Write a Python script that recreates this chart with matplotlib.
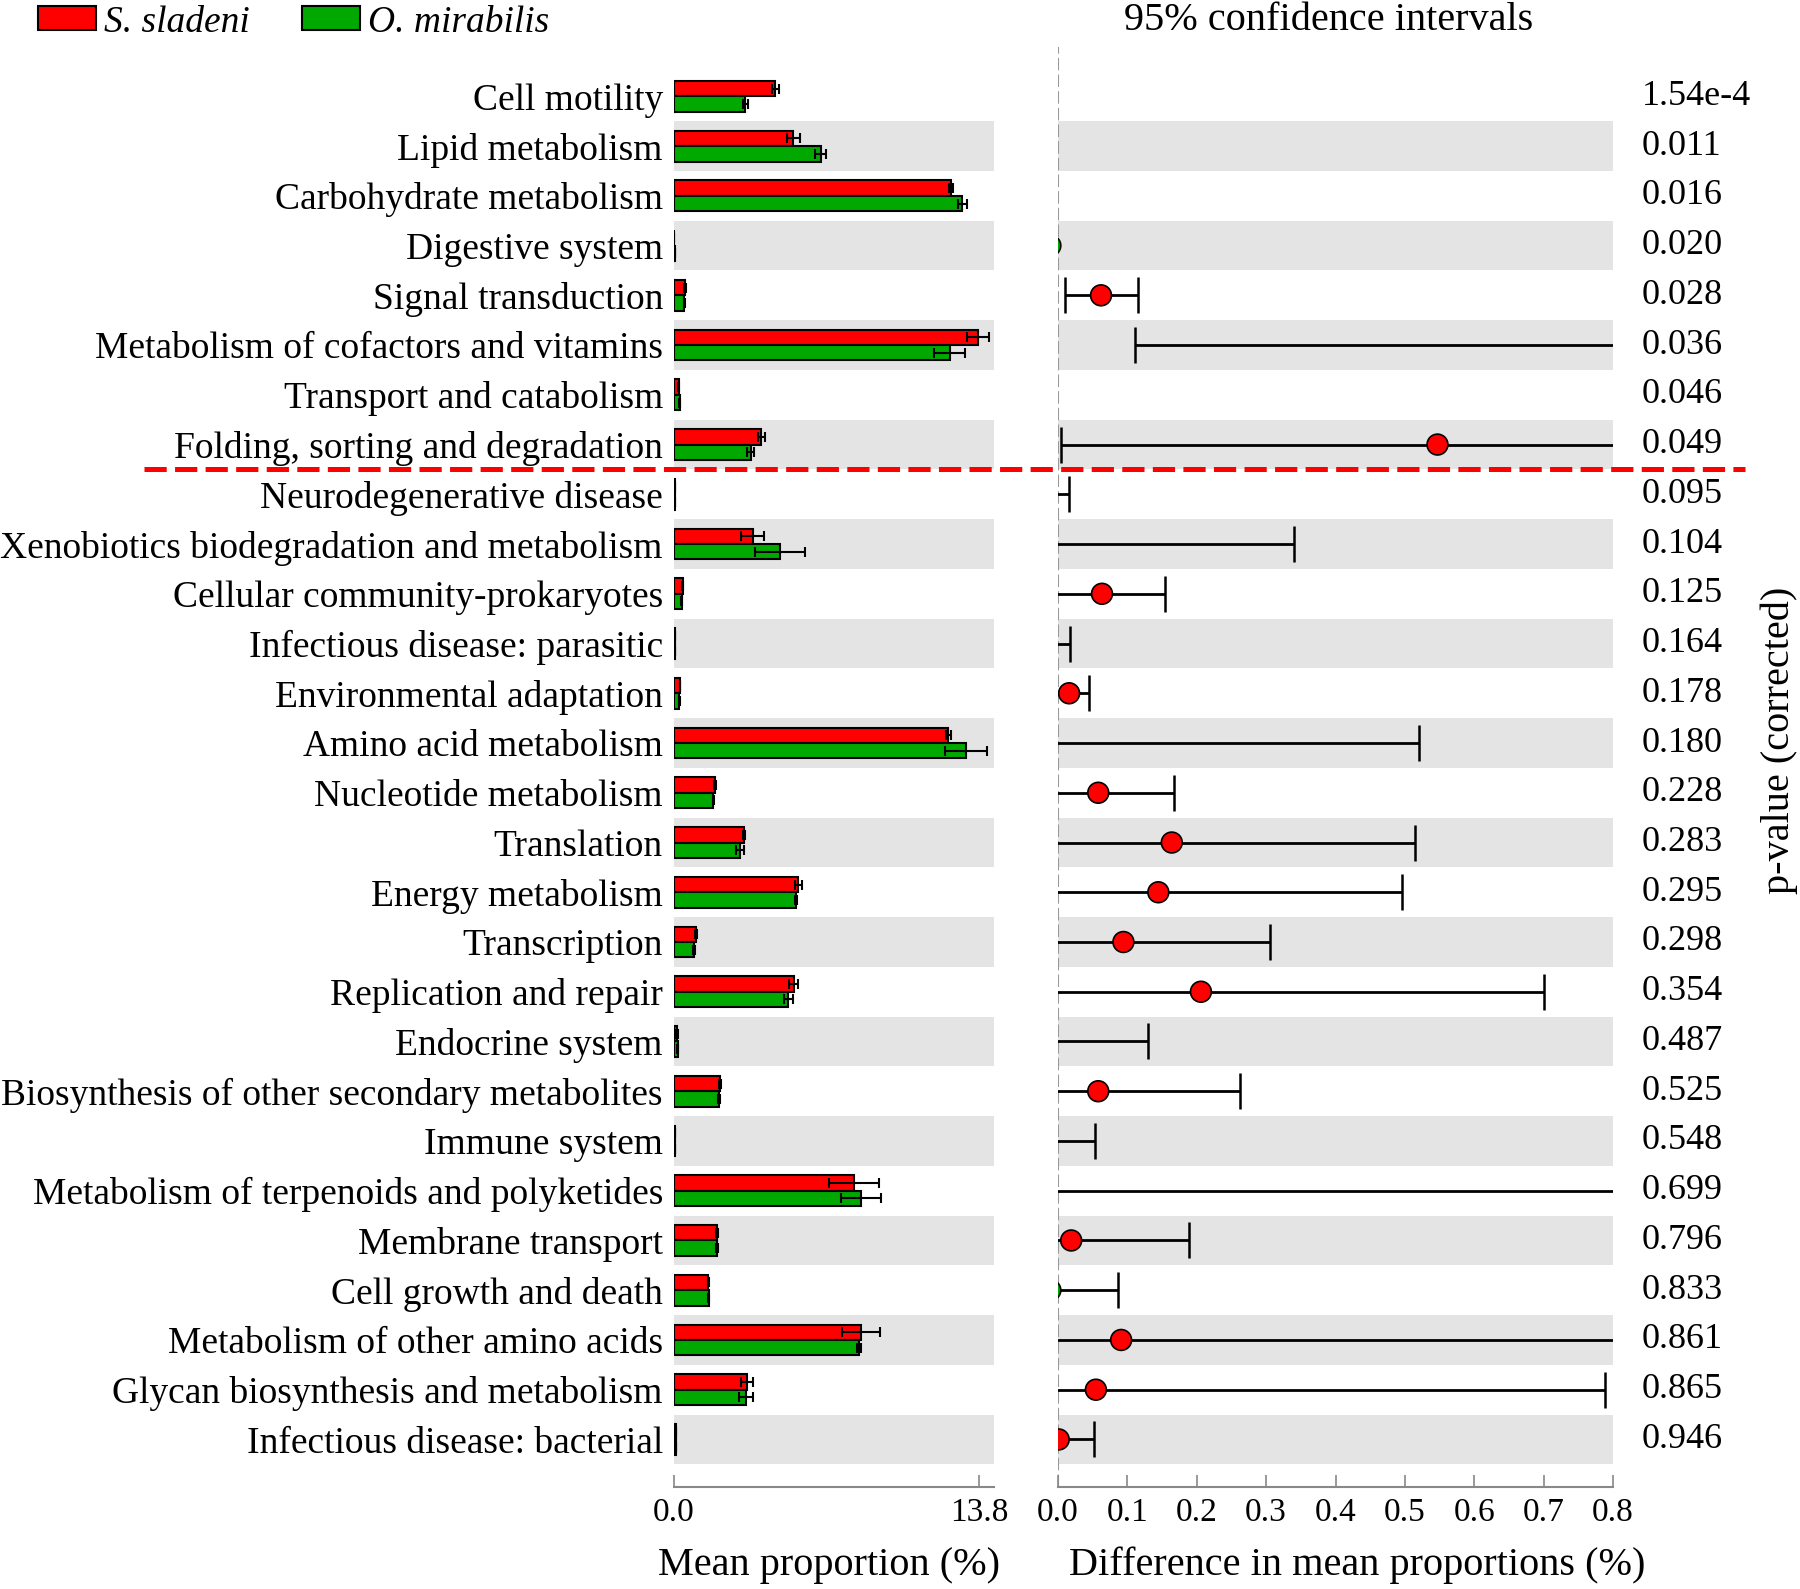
import numpy as np
import matplotlib
matplotlib.use("Agg")
import matplotlib.pyplot as plt
from matplotlib.patches import Patch
from matplotlib.lines import Line2D
from matplotlib.transforms import blended_transform_factory

plt.rcParams["font.family"] = ["Liberation Serif", "DejaVu Serif"]
plt.rcParams["lines.scale_dashes"] = False

categories = [
    "Cell motility", "Lipid metabolism", "Carbohydrate metabolism",
    "Digestive system", "Signal transduction",
    "Metabolism of cofactors and vitamins", "Transport and catabolism",
    "Folding, sorting and degradation", "Neurodegenerative disease",
    "Xenobiotics biodegradation and metabolism",
    "Cellular community-prokaryotes", "Infectious disease: parasitic",
    "Environmental adaptation", "Amino acid metabolism",
    "Nucleotide metabolism", "Translation", "Energy metabolism",
    "Transcription", "Replication and repair", "Endocrine system",
    "Biosynthesis of other secondary metabolites", "Immune system",
    "Metabolism of terpenoids and polyketides", "Membrane transport",
    "Cell growth and death", "Metabolism of other amino acids",
    "Glycan biosynthesis and metabolism", "Infectious disease: bacterial",
]

# mean proportion (%) per group
sladeni_mean = [4.58, 5.39, 12.51, 0.02, 0.49, 13.75, 0.21, 3.95, 0.05, 3.55,
                0.39, 0.05, 0.27, 12.40, 1.85, 3.18, 5.62, 1.00, 5.40, 0.13,
                2.08, 0.06, 8.13, 1.93, 1.55, 8.44, 3.31, 0.10]
sladeni_err = [0.15, 0.30, 0.10, 0.0, 0.03, 0.50, 0.02, 0.15, 0.0, 0.53,
               0.03, 0.0, 0.02, 0.10, 0.05, 0.05, 0.15, 0.05, 0.20, 0.03,
               0.05, 0.0, 1.12, 0.05, 0.02, 0.85, 0.26, 0.0]
mirabilis_mean = [3.23, 6.63, 13.03, 0.03, 0.47, 12.45, 0.26, 3.46, 0.06, 4.79,
                  0.35, 0.06, 0.23, 13.18, 1.78, 2.99, 5.50, 0.89, 5.17, 0.16,
                  2.05, 0.06, 8.45, 1.93, 1.57, 8.36, 3.25, 0.10]
mirabilis_err = [0.10, 0.25, 0.20, 0.0, 0.03, 0.70, 0.02, 0.15, 0.0, 1.13,
                 0.02, 0.0, 0.02, 0.95, 0.03, 0.18, 0.05, 0.05, 0.20, 0.03,
                 0.05, 0.0, 0.90, 0.05, 0.02, 0.10, 0.32, 0.0]

# difference in mean proportions and 95% CI
diff = [1.29, -1.19, -0.49, -0.011, 0.062, 1.24, -0.03, 0.547, -0.017, -1.21,
        0.0634, -0.02, 0.016, -0.75, 0.058, 0.164, 0.1446, 0.0943, 0.206, -0.05,
        0.058, -0.02, -0.30, 0.019, -0.011, 0.091, 0.0546, 0.001]
ci_low = [0.85, -1.90, -0.85, -0.03, 0.0107, 0.1116, -0.06, 0.004, -0.05, -2.76,
          -0.027, -0.058, -0.012, -2.02, -0.051, -0.187, -0.206, -0.116, -0.288, -0.23,
          -0.147, -0.093, -1.50, -0.151, -0.091, -0.70, -0.68, -0.044]
ci_high = [1.73, -0.45, -0.12, -0.006, 0.1157, 2.37, -0.006, 1.09, 0.0165, 0.340,
           0.154, 0.0177, 0.044, 0.521, 0.167, 0.515, 0.4955, 0.305, 0.700, 0.130,
           0.263, 0.0535, 0.90, 0.189, 0.0866, 0.88, 0.789, 0.052]

p_values = ["1.54e-4", "0.011", "0.016", "0.020", "0.028", "0.036", "0.046",
            "0.049", "0.095", "0.104", "0.125", "0.164", "0.178", "0.180",
            "0.228", "0.283", "0.295", "0.298", "0.354", "0.487", "0.525",
            "0.548", "0.699", "0.796", "0.833", "0.861", "0.865", "0.946"]

red = "#ff0000"
green = "#00a800"
band = "#e4e4e4"
W, H = 1800, 1589
fs = 27
fs_big = 29

fig = plt.figure(figsize=(18, 15.89), dpi=100)
bottom = 1 - 1486.7 / H
height = (1486.7 - 46.6) / H
ax1 = fig.add_axes([674 / W, bottom, 320 / W, height])
ax2 = fig.add_axes([1058 / W, bottom, 555 / W, height])

n = len(categories)
y = np.arange(n)
ylim = (27.95, -1.0)

for ax in (ax1, ax2):
    for i in range(1, n, 2):
        ax.axhspan(i - 0.5, i + 0.5, color=band, lw=0, zorder=0)
    for s in ("top", "right", "left"):
        ax.spines[s].set_visible(False)
    ax.spines["bottom"].set_color("#888888")
    ax.spines["bottom"].set_linewidth(1.5)
    ax.tick_params(axis="x", direction="in", length=9, width=1.2,
                   color="#888888", labelsize=24, pad=8)
    ax.set_ylim(ylim)

# left panel: mean proportions
bar_h = 0.31
ekw = dict(ecolor="black", elinewidth=1.5, capsize=3.5, capthick=1.5)
ax1.barh(y - bar_h / 2, sladeni_mean, height=bar_h, color=red,
         edgecolor="black", linewidth=1.5, xerr=sladeni_err, error_kw=ekw, zorder=2)
ax1.barh(y + bar_h / 2, mirabilis_mean, height=bar_h, color=green,
         edgecolor="black", linewidth=1.5, xerr=mirabilis_err, error_kw=ekw, zorder=2)
ax1.set_xlim(0, 14.46)
ax1.set_xticks([0, 13.8])
ax1.set_xticklabels(["0.0", "13.8"])
ax1.set_yticks(y)
ax1.set_yticklabels(categories, fontsize=fs)
ax1.tick_params(axis="y", length=0, pad=8)

# right panel: differences with CI
diff_arr = np.array(diff)
lo = np.array(ci_low)
hi = np.array(ci_high)
ax2.axvline(0, color="#999999", lw=1.5, linestyle=(0, (9, 3)), zorder=1)
ax2.errorbar(diff_arr, y, xerr=[diff_arr - lo, hi - diff_arr], fmt="none",
             ecolor="black", elinewidth=2, capsize=13, capthick=1.8, zorder=2)
dot_colors = [red if d > 0 else green for d in diff]
ax2.scatter(diff_arr, y, s=15 ** 2, c=dot_colors, edgecolors="black",
            linewidths=1.2, zorder=3)
ax2.set_xlim(0, 0.8)
ax2.set_xticks(np.arange(0, 0.81, 0.1))
ax2.set_xticklabels([f"{v:.1f}" for v in np.arange(0, 0.81, 0.1)])
ax2.set_yticks([])

ptrans = blended_transform_factory(ax2.transAxes, ax2.transData)
for i, p in enumerate(p_values):
    ax2.text((1642 - 1058) / 555, i, p, transform=ptrans, ha="left",
             va="center", fontsize=26)

# significance separator
sep_trans = blended_transform_factory(fig.transFigure, ax1.transData)
sep = Line2D([143.5 / W, 1745 / W], [7.5, 7.5], transform=sep_trans,
             color=red, lw=3.6, dashes=(16, 6), zorder=10)
fig.add_artist(sep)

fig.text(1329 / W, 1 - 21 / H, "95% confidence intervals", ha="center",
         va="center", fontsize=fs_big)
fig.text(829 / W, 1 - 1565 / H, "Mean proportion (%)", ha="center",
         va="center", fontsize=fs_big)
fig.text(1357 / W, 1 - 1565 / H, "Difference in mean proportions (%)",
         ha="center", va="center", fontsize=fs_big)
fig.text(1779 / W, 1 - 740 / H, "p-value (corrected)", rotation=90,
         ha="center", va="center", fontsize=fs_big)

handles = [Patch(facecolor=red, edgecolor="black", linewidth=1.5),
           Patch(facecolor=green, edgecolor="black", linewidth=1.5)]
fig.legend(handles, ["S. sladeni", "O. mirabilis"], loc="upper left",
           bbox_to_anchor=(38 / W, 1 - 5 / H), ncol=2, frameon=False,
           handlelength=1.55, handleheight=0.6, handletextpad=0.2,
           columnspacing=1.4, borderpad=0, borderaxespad=0,
           prop={"family": "Liberation Serif", "style": "italic", "size": fs})

fig.savefig("out.png", dpi=100)
